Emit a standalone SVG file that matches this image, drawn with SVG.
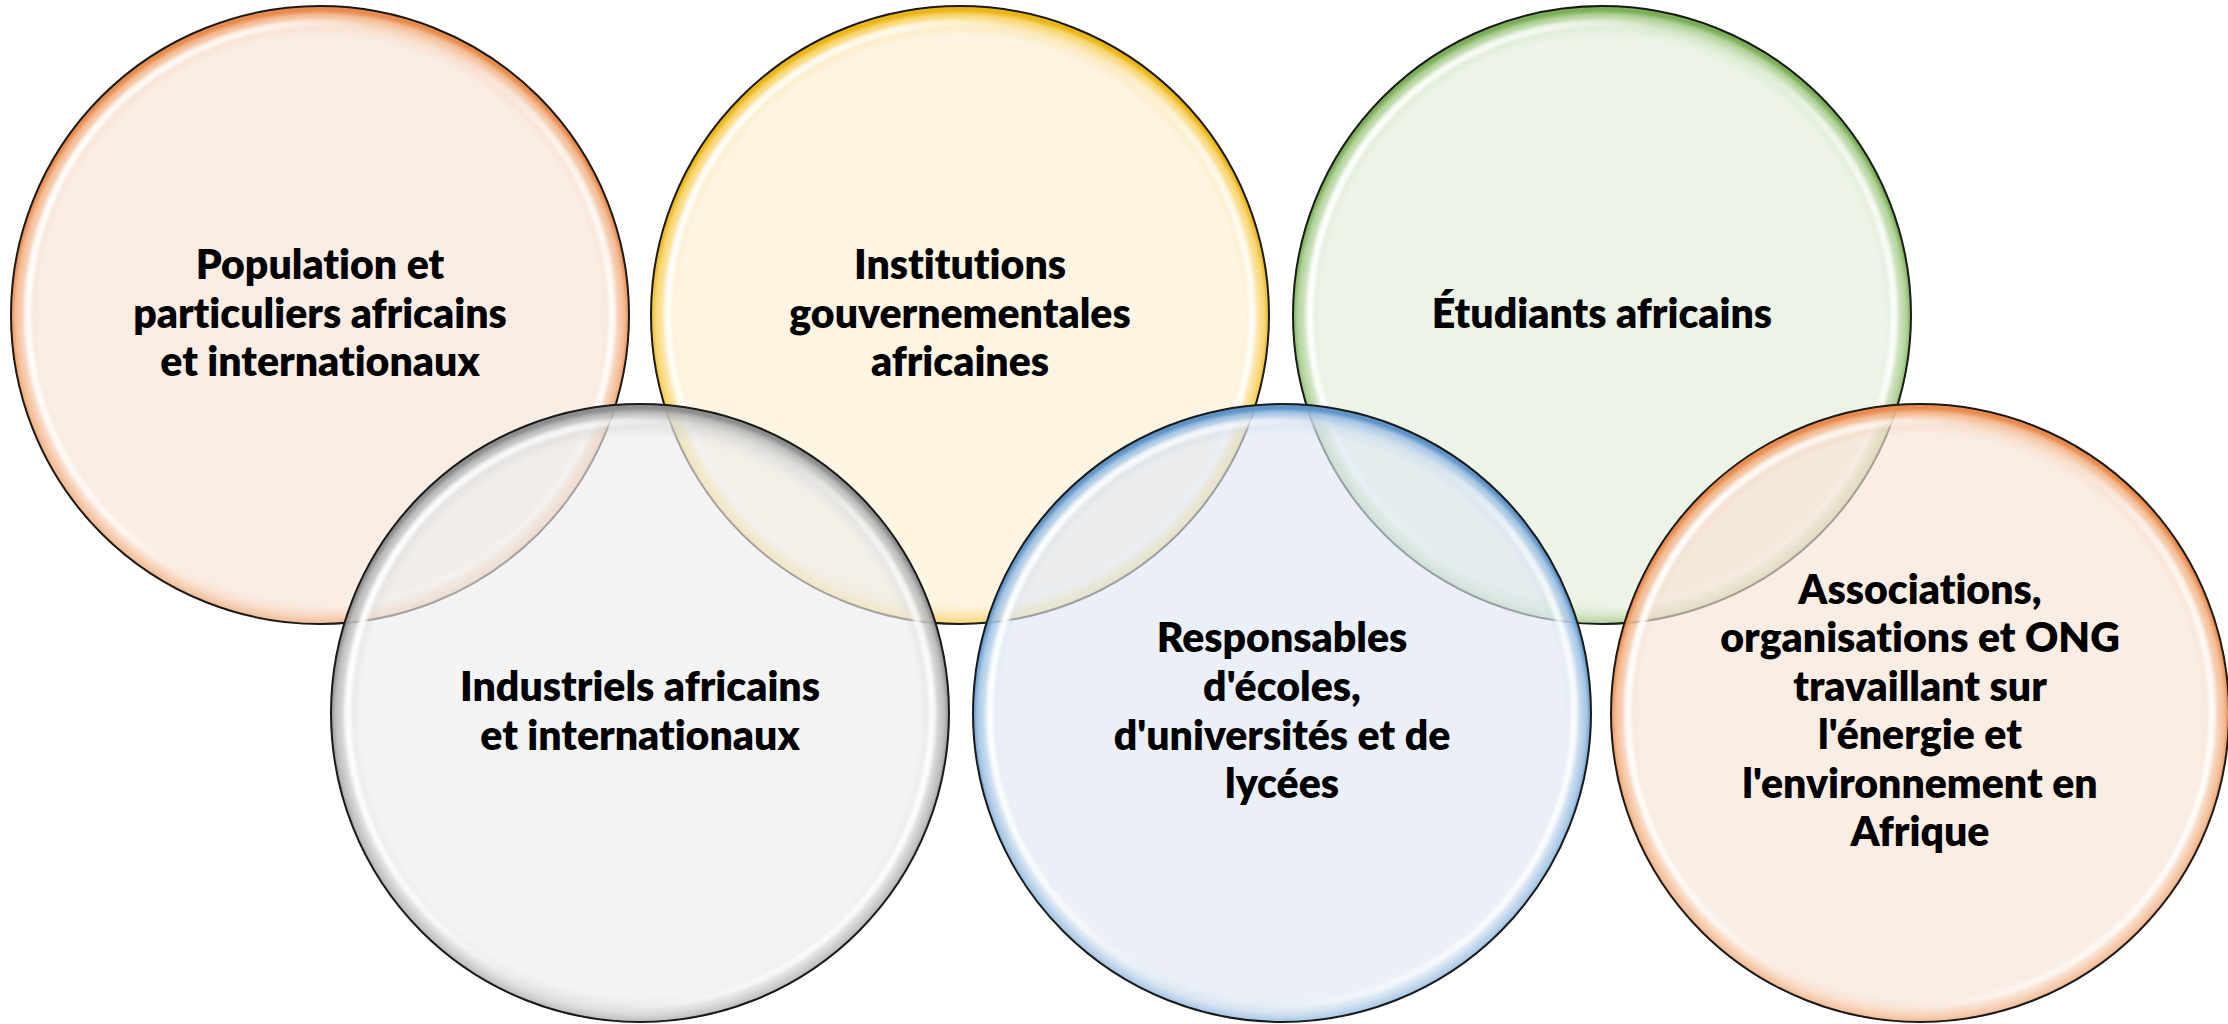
<svg xmlns="http://www.w3.org/2000/svg" width="2228" height="1024" viewBox="0 0 2228 1024">
  <defs>
    <style>
      .lbl { font-family: Lato, "Liberation Sans", sans-serif; font-weight: 800; font-size: 41px; fill: #000; text-anchor: middle; font-variant-ligatures: none; font-feature-settings: "liga" 0; }
      .rim { fill: none; stroke: #1a1a1a; stroke-width: 2; }
      .hl { fill: none; stroke: url(#hlGrad); stroke-width: 7; filter: url(#soft); }
    </style>
    <filter id="soft" x="-5%" y="-5%" width="110%" height="110%">
      <feGaussianBlur stdDeviation="1.8"/>
    </filter>
    <linearGradient id="hlGrad" x1="0" y1="0.35" x2="1" y2="0.65">
      <stop offset="0" stop-color="#fff" stop-opacity="0.95"/>
      <stop offset="0.28" stop-color="#fff" stop-opacity="0.7"/>
      <stop offset="0.45" stop-color="#fff" stop-opacity="0"/>
      <stop offset="0.6" stop-color="#fff" stop-opacity="0"/>
      <stop offset="0.78" stop-color="#fff" stop-opacity="0.6"/>
      <stop offset="1" stop-color="#fff" stop-opacity="0.9"/>
    </linearGradient>
    <radialGradient id="gOrange" cx="0.5" cy="0.507" r="0.5">
      <stop offset="0" stop-color="#F7E3D5" stop-opacity="0.65"/>
      <stop offset="0.915" stop-color="#F7E3D5" stop-opacity="0.65"/>
      <stop offset="0.955" stop-color="#F6D2B9" stop-opacity="0.78"/>
      <stop offset="0.985" stop-color="#F3B68B" stop-opacity="0.92"/>
      <stop offset="1" stop-color="#E88B4C" stop-opacity="1"/>
    </radialGradient>
    <radialGradient id="gYellow" cx="0.5" cy="0.507" r="0.5">
      <stop offset="0" stop-color="#FCEED2" stop-opacity="0.65"/>
      <stop offset="0.915" stop-color="#FCEED2" stop-opacity="0.65"/>
      <stop offset="0.955" stop-color="#FBE3A6" stop-opacity="0.78"/>
      <stop offset="0.985" stop-color="#F8D366" stop-opacity="0.92"/>
      <stop offset="1" stop-color="#EBB516" stop-opacity="1"/>
    </radialGradient>
    <radialGradient id="gGreen" cx="0.5" cy="0.507" r="0.5">
      <stop offset="0" stop-color="#E2EEDA" stop-opacity="0.65"/>
      <stop offset="0.915" stop-color="#E2EEDA" stop-opacity="0.65"/>
      <stop offset="0.955" stop-color="#CDE3BF" stop-opacity="0.78"/>
      <stop offset="0.985" stop-color="#ABCF92" stop-opacity="0.92"/>
      <stop offset="1" stop-color="#7BAF57" stop-opacity="1"/>
    </radialGradient>
    <radialGradient id="gGrey" cx="0.5" cy="0.507" r="0.5">
      <stop offset="0" stop-color="#EDEDED" stop-opacity="0.65"/>
      <stop offset="0.905" stop-color="#EDEDED" stop-opacity="0.65"/>
      <stop offset="0.955" stop-color="#D6D6D6" stop-opacity="0.78"/>
      <stop offset="0.985" stop-color="#B8B8B8" stop-opacity="0.92"/>
      <stop offset="1" stop-color="#8E8E8E" stop-opacity="1"/>
    </radialGradient>
    <radialGradient id="gBlue" cx="0.5" cy="0.507" r="0.5">
      <stop offset="0" stop-color="#E0E8F4" stop-opacity="0.65"/>
      <stop offset="0.915" stop-color="#E0E8F4" stop-opacity="0.65"/>
      <stop offset="0.955" stop-color="#CBDCEE" stop-opacity="0.78"/>
      <stop offset="0.985" stop-color="#9FC2E4" stop-opacity="0.92"/>
      <stop offset="1" stop-color="#5F94C8" stop-opacity="1"/>
    </radialGradient>
  </defs>

  <rect x="0" y="0" width="2228" height="1024" fill="#ffffff"/>

  <g id="connectors"></g>

  <g id="node-population">
    <circle cx="320" cy="315" r="309" fill="url(#gOrange)"/>
    <circle class="hl" cx="320" cy="315" r="292"/>
    <circle class="rim" cx="320" cy="315" r="309"/>
    <text class="lbl" x="320" y="279">Population et</text>
    <text class="lbl" x="320" y="328">particuliers africains</text>
    <text class="lbl" x="320" y="376">et internationaux</text>
  </g>

  <g id="node-institutions">
    <circle cx="960" cy="315" r="309" fill="url(#gYellow)"/>
    <circle class="hl" cx="960" cy="315" r="292"/>
    <circle class="rim" cx="960" cy="315" r="309"/>
    <text class="lbl" x="960" y="279">Institutions</text>
    <text class="lbl" x="960" y="328">gouvernementales</text>
    <text class="lbl" x="960" y="376">africaines</text>
  </g>

  <g id="node-etudiants">
    <circle cx="1602" cy="315" r="309" fill="url(#gGreen)"/>
    <circle class="hl" cx="1602" cy="315" r="292"/>
    <circle class="rim" cx="1602" cy="315" r="309"/>
    <text class="lbl" x="1602" y="328">Étudiants africains</text>
  </g>

  <g id="node-industriels">
    <circle cx="640" cy="713" r="309" fill="url(#gGrey)"/>
    <circle class="hl" cx="640" cy="713" r="292"/>
    <circle class="rim" cx="640" cy="713" r="309"/>
    <text class="lbl" x="640" y="701">Industriels africains</text>
    <text class="lbl" x="640" y="750">et internationaux</text>
  </g>

  <g id="node-responsables">
    <circle cx="1282" cy="713" r="309" fill="url(#gBlue)"/>
    <circle class="hl" cx="1282" cy="713" r="292"/>
    <circle class="rim" cx="1282" cy="713" r="309"/>
    <text class="lbl" x="1282" y="652">Responsables</text>
    <text class="lbl" x="1282" y="701">d'écoles,</text>
    <text class="lbl" x="1282" y="750">d'universités et de</text>
    <text class="lbl" x="1282" y="798">lycées</text>
  </g>

  <g id="node-associations">
    <circle cx="1920" cy="713" r="309" fill="url(#gOrange)"/>
    <circle class="hl" cx="1920" cy="713" r="292"/>
    <circle class="rim" cx="1920" cy="713" r="309"/>
    <text class="lbl" x="1920" y="604">Associations,</text>
    <text class="lbl" x="1920" y="652">organisations et ONG</text>
    <text class="lbl" x="1920" y="701">travaillant sur</text>
    <text class="lbl" x="1920" y="749">l'énergie et</text>
    <text class="lbl" x="1920" y="798">l'environnement en</text>
    <text class="lbl" x="1920" y="846">Afrique</text>
  </g>
</svg>
